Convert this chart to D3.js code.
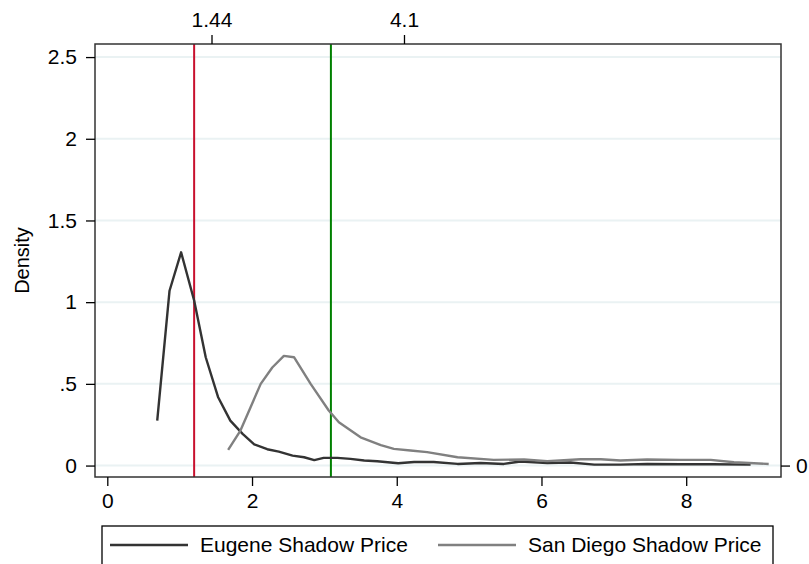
<!DOCTYPE html>
<html>
<head>
  <meta charset="utf-8">
  <title>Shadow price densities</title>
  <script type="text/javascript" src="https://d3js.org/d3.v7.min.js"></script>
  <style>
    body { margin: 0; background: #fff; }
    text { font-family: "Liberation Sans", Arial, Helvetica, sans-serif; fill: #000; }
  </style>
</head>
<body>
  <div id="container"></div>
  <script type="text/javascript">
    // Eugene shadow price density (x, density)
    var eugeneX = [0.69, 0.86, 1.02, 1.20, 1.36, 1.53, 1.70, 1.87, 2.03, 2.21, 2.37, 2.56, 2.72, 2.86, 2.99, 3.18, 3.36, 3.55, 3.73, 4.02, 4.24, 4.51, 4.84, 5.16, 5.48, 5.71, 6.08, 6.40, 6.73, 7.09, 7.46, 7.92, 8.38, 8.89];
    var eugeneY = [0.275, 1.07, 1.305, 1.01, 0.663, 0.42, 0.275, 0.194, 0.13, 0.10, 0.085, 0.061, 0.051, 0.033, 0.047, 0.047, 0.041, 0.031, 0.026, 0.014, 0.022, 0.022, 0.010, 0.016, 0.010, 0.025, 0.016, 0.019, 0.006, 0.006, 0.010, 0.008, 0.008, 0.006];

    // San Diego shadow price density
    var sandiegoX = [1.67, 1.84, 1.98, 2.12, 2.28, 2.44, 2.58, 2.81, 3.06, 3.20, 3.50, 3.78, 3.96, 4.19, 4.42, 4.84, 5.34, 5.76, 6.08, 6.54, 6.82, 7.09, 7.46, 7.92, 8.34, 8.66, 9.14];
    var sandiegoY = [0.096, 0.214, 0.357, 0.50, 0.60, 0.671, 0.663, 0.50, 0.337, 0.265, 0.173, 0.125, 0.102, 0.092, 0.082, 0.051, 0.035, 0.037, 0.027, 0.039, 0.039, 0.031, 0.037, 0.035, 0.035, 0.020, 0.010];

    // reference lines
    var refLines = [1.20, 3.09];
    var refColours = ['#c8102e', '#008000'];

    // axis ticks
    var xTicks = [0, 2, 4, 6, 8];
    var yTicks = [0, 0.5, 1, 1.5, 2, 2.5];
    var yLabels = ['0', '.5', '1', '1.5', '2', '2.5'];
    var topTicks = [1.44, 4.1];
    var rightTicks = [0];

    var seriesNames = ['Eugene Shadow Price', 'San Diego Shadow Price'];
    var seriesColours = ['#333333', '#808080'];

    var width = 809, height = 564;
    var plot = {left: 95, right: 781, top: 44, bottom: 477};

    var svg = d3.select('#container').append('svg')
      .attr('width', width)
      .attr('height', height);

    var x = d3.scaleLinear().domain([-0.17, 9.31]).range([plot.left, plot.right]);
    var y = d3.scaleLinear().domain([-0.07, 2.58]).range([plot.bottom, plot.top]);

    // grid lines
    svg.append('g')
      .selectAll('line')
      .data(yTicks)
      .enter()
      .append('line')
        .attr('x1', plot.left)
        .attr('x2', plot.right)
        .attr('y1', d => y(d))
        .attr('y2', d => y(d))
        .attr('stroke', '#eaf2f3')
        .attr('stroke-width', 2);

    // reference lines
    svg.append('g')
      .selectAll('line')
      .data(refLines)
      .enter()
      .append('line')
        .attr('x1', d => x(d))
        .attr('x2', d => x(d))
        .attr('y1', plot.top)
        .attr('y2', plot.bottom)
        .attr('stroke', (d, i) => refColours[i])
        .attr('stroke-width', 2);

    // density curves
    var line = d3.line().x(d => x(d[0])).y(d => y(d[1]));
    var series = [
      d3.zip(eugeneX, eugeneY),
      d3.zip(sandiegoX, sandiegoY)
    ];
    svg.append('g')
      .selectAll('path')
      .data(series)
      .enter()
      .append('path')
        .attr('d', line)
        .attr('fill', 'none')
        .attr('stroke', (d, i) => seriesColours[i])
        .attr('stroke-width', 2.4)
        .attr('stroke-linejoin', 'round');

    // frame
    svg.append('rect')
      .attr('x', plot.left)
      .attr('y', plot.top)
      .attr('width', plot.right - plot.left)
      .attr('height', plot.bottom - plot.top)
      .attr('fill', 'none')
      .attr('stroke', '#333')
      .attr('stroke-width', 1.5);

    function styleAxis(g) {
      g.select('.domain').remove();
      g.selectAll('.tick line').attr('stroke', '#000').attr('stroke-width', 1.3);
      g.selectAll('.tick text')
        .style('font-size', '21px')
        .style('font-family', '"Liberation Sans", Arial, sans-serif')
        .attr('fill', '#000');
    }

    svg.append('g')
      .attr('transform', `translate(0,${plot.bottom})`)
      .call(d3.axisBottom(x).tickValues(xTicks).tickSize(9).tickPadding(7).tickFormat(d3.format('d')))
      .call(styleAxis);

    svg.append('g')
      .attr('transform', `translate(${plot.left},0)`)
      .call(d3.axisLeft(y).tickValues(yTicks).tickSize(9).tickPadding(9).tickFormat((d, i) => yLabels[i]))
      .call(styleAxis);

    svg.append('g')
      .attr('transform', `translate(0,${plot.top})`)
      .call(d3.axisTop(x).tickValues(topTicks).tickSize(9).tickPadding(8).tickFormat(d => String(d)))
      .call(styleAxis);

    svg.append('g')
      .attr('transform', `translate(${plot.right},0)`)
      .call(d3.axisRight(y).tickValues(rightTicks).tickSize(9).tickPadding(6).tickFormat(d3.format('d')))
      .call(styleAxis);

    // y axis title
    svg.append('text')
      .attr('transform', `translate(29,${(plot.top + plot.bottom) / 2}) rotate(-90)`)
      .attr('text-anchor', 'middle')
      .style('font-size', '20px')
      .text('Density');

    // legend
    var legend = svg.append('g');
    legend.append('rect')
      .attr('x', 102)
      .attr('y', 526)
      .attr('width', 671)
      .attr('height', 50)
      .attr('fill', '#fff')
      .attr('stroke', '#000')
      .attr('stroke-width', 1.3);
    var item = legend.selectAll('.item')
      .data(seriesNames)
      .enter()
      .append('g')
        .attr('class', 'item')
        .attr('transform', (d, i) => `translate(${i ? 438 : 110},545)`);
    item.append('line')
      .attr('x1', 0)
      .attr('x2', 78)
      .attr('stroke', (d, i) => seriesColours[i])
      .attr('stroke-width', 2.4);
    item.append('text')
      .attr('x', 90)
      .attr('dy', '0.35em')
      .style('font-size', '21px')
      .text(d => d);
  </script>
</body>
</html>
